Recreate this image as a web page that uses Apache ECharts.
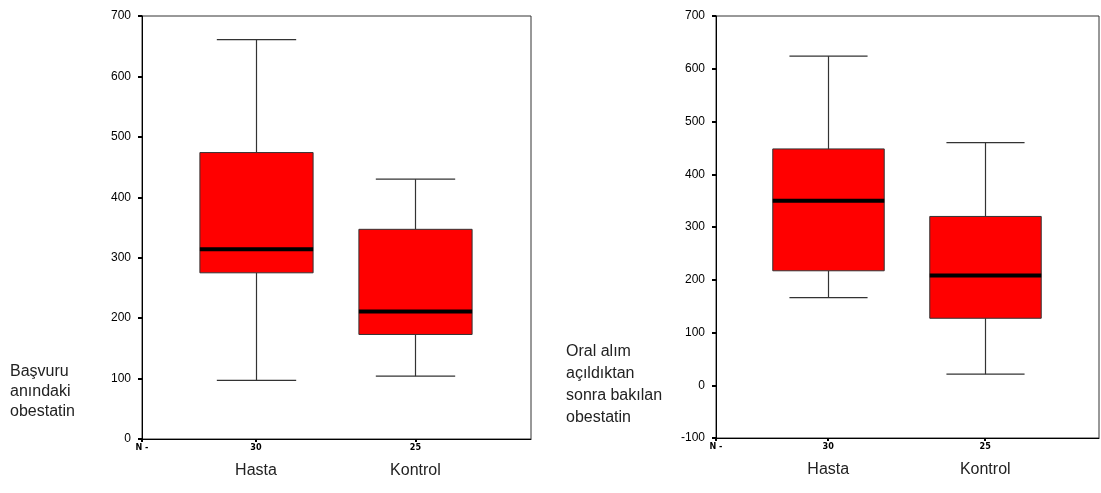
<!DOCTYPE html>
<html>
<head>
<meta charset="utf-8">
<script src="https://cdn.jsdelivr.net/npm/echarts@6/dist/echarts.min.js"></script>
<style>
html,body{margin:0;padding:0;background:#fff;}
#chart{width:1101px;height:493px;}
</style>
</head>
<body>
<div id="chart"></div>
<script>
// ---- data ----
const categories = ['Hasta', 'Kontrol'];
const nCounts = [30, 25];
const xPos = [29.3, 70.3];

// Left panel: Başvuru anındaki obestatin
const basvuruMin = [97, 104];
const basvuruQ1 = [275, 173];
const basvuruMedian = [314, 211];
const basvuruQ3 = [474, 347];
const basvuruMax = [661, 430];

// Right panel: Oral alım açıldıktan sonra bakılan obestatin
const oralMin = [166, 21];
const oralQ1 = [217, 127];
const oralMedian = [350, 208];
const oralQ3 = [448, 320];
const oralMax = [624, 460];

const leftTitle = 'Başvuru\nanındaki\nobestatin';
const rightTitle = 'Oral alım\naçıldıktan\nsonra bakılan\nobestatin';

// ---- chart ----
const BOX_UNITS = 29.1;
const CAP_UNITS = 20.4;
const FONT = 'Liberation Sans, Arial, sans-serif';

function buildRows(mn, q1, md, q3, mx) {
  return categories.map((c, i) => [xPos[i], mn[i], q1[i], md[i], q3[i], mx[i]]);
}

function renderItem(params, api) {
  const x = api.value(0);
  const pMin = api.coord([x, api.value(1)]);
  const pQ1 = api.coord([x, api.value(2)]);
  const pMed = api.coord([x, api.value(3)]);
  const pQ3 = api.coord([x, api.value(4)]);
  const pMax = api.coord([x, api.value(5)]);
  const boxW = api.size([BOX_UNITS, 0])[0];
  const capW = api.size([CAP_UNITS, 0])[0];
  const cx = Math.round(pMed[0]) + 0.5;
  const wStyle = { stroke: '#333333', lineWidth: 1.2 };
  return {
    type: 'group',
    children: [
      { type: 'line', shape: { x1: cx, y1: pMax[1], x2: cx, y2: pQ3[1] }, style: wStyle },
      { type: 'line', shape: { x1: cx, y1: pQ1[1], x2: cx, y2: pMin[1] }, style: wStyle },
      { type: 'line', shape: { x1: cx - capW / 2, y1: pMax[1], x2: cx + capW / 2, y2: pMax[1] }, style: wStyle },
      { type: 'line', shape: { x1: cx - capW / 2, y1: pMin[1], x2: cx + capW / 2, y2: pMin[1] }, style: wStyle },
      { type: 'rect', shape: { x: cx - boxW / 2, y: pQ3[1], width: boxW, height: pQ1[1] - pQ3[1] },
        style: { fill: '#ff0000', stroke: '#333333', lineWidth: 1 } },
      { type: 'line', shape: { x1: cx - boxW / 2, y1: pMed[1], x2: cx + boxW / 2, y2: pMed[1] },
        style: { stroke: '#000000', lineWidth: 4 } }
    ]
  };
}

const tickVals = [0].concat(xPos);

function xLabel(value) {
  if (value === 0) return '{n|N -}';
  const i = xPos.indexOf(value);
  if (i < 0) return '';
  return '{n|' + nCounts[i] + '}\n{c|' + categories[i] + '}';
}

function makeX(gi) {
  return {
    type: 'value', gridIndex: gi, min: 0, max: 100,
    axisLine: { show: true, onZero: false, lineStyle: { color: '#000', width: 1 } },
    axisTick: { show: true, customValues: tickVals, length: 3, lineStyle: { color: '#000', width: 2 } },
    axisLabel: {
      customValues: tickVals, formatter: xLabel, margin: 3,
      rich: {
        n: { fontSize: 9, fontWeight: 'bold', fontFamily: 'DejaVu Sans Condensed, sans-serif', color: '#000', lineHeight: 12, align: 'center' },
        c: { fontSize: 16, fontFamily: FONT, color: '#222', lineHeight: 34, align: 'center' }
      }
    },
    splitLine: { show: false }
  };
}

function makeY(gi, min, max) {
  return {
    type: 'value', gridIndex: gi, min: min, max: max, interval: 100,
    axisLine: { show: true, onZero: false, lineStyle: { color: '#000', width: 1 } },
    axisTick: { show: true, length: 4, lineStyle: { color: '#000', width: 2 } },
    axisLabel: { color: '#000', fontSize: 12, fontFamily: FONT, margin: 11 },
    splitLine: { show: false }
  };
}

const chart = echarts.init(document.getElementById('chart'), null, { renderer: 'canvas' });
chart.setOption({
  animation: false,
  backgroundColor: '#ffffff',
  grid: [
    { left: 142, top: 16, width: 389, height: 423, show: true, borderColor: '#333', borderWidth: 1, containLabel: false },
    { left: 716, top: 16, width: 383, height: 422, show: true, borderColor: '#333', borderWidth: 1, containLabel: false }
  ],
  xAxis: [makeX(0), makeX(1)],
  yAxis: [makeY(0, 0, 700), makeY(1, -100, 700)],
  series: [
    { type: 'custom', xAxisIndex: 0, yAxisIndex: 0, renderItem: renderItem,
      encode: { x: 0, y: [1, 2, 3, 4, 5] },
      data: buildRows(basvuruMin, basvuruQ1, basvuruMedian, basvuruQ3, basvuruMax) },
    { type: 'custom', xAxisIndex: 1, yAxisIndex: 1, renderItem: renderItem,
      encode: { x: 0, y: [1, 2, 3, 4, 5] },
      data: buildRows(oralMin, oralQ1, oralMedian, oralQ3, oralMax) }
  ],
  graphic: [
    { type: 'text', x: 10, y: 362, style: { text: leftTitle, fontSize: 16, fontFamily: FONT, fill: '#222', lineHeight: 20, verticalAlign: 'top' } },
    { type: 'text', x: 566, y: 341, style: { text: rightTitle, fontSize: 16, fontFamily: FONT, fill: '#222', lineHeight: 22, verticalAlign: 'top' } }
  ]
});
</script>
</body>
</html>
